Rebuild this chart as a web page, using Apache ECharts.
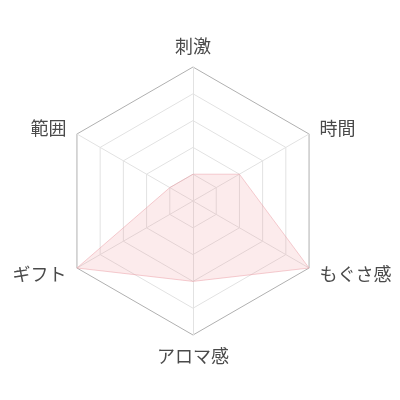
<!DOCTYPE html>
<html>
<head>
<meta charset="utf-8">
<script src="https://cdn.jsdelivr.net/npm/echarts@6/dist/echarts.min.js"></script>
<style>
html,body{margin:0;padding:0;background:#fff;}
#chart{width:400px;height:400px;}
</style>
</head>
<body>
<div id="chart"></div>
<script>
// Indicators in counterclockwise order starting from the top
const indicatorNames = ['刺激', '範囲', 'ギフト', 'アロマ感', 'もぐさ感', '時間'];
const maxValue = 5;
const values = [1, 1, 5, 3, 5, 2];

const chart = echarts.init(document.getElementById('chart'));
chart.setOption({
  animation: false,
  radar: {
    center: [193, 201],
    radius: 134,
    startAngle: 90,
    splitNumber: 5,
    shape: 'polygon',
    indicator: indicatorNames.map(n => ({ name: n, max: maxValue })),
    axisName: {
      color: '#4a4a4a',
      fontSize: 18,
      fontFamily: '"Noto Sans CJK JP", sans-serif'
    },
    nameGap: 12,
    splitArea: { show: false },
    splitLine: {
      lineStyle: { color: ['#e2e2e2', '#e2e2e2', '#e2e2e2', '#e2e2e2', '#e2e2e2', '#b0b0b0'], width: 1 }
    },
    axisLine: { lineStyle: { color: '#e2e2e2', width: 1 } }
  },
  series: [{
    type: 'radar',
    symbol: 'none',
    data: [{
      value: values,
      lineStyle: { color: 'rgba(236,160,168,0.5)', width: 1 },
      areaStyle: { color: 'rgba(236,140,150,0.25)' }
    }]
  }]
});
</script>
</body>
</html>
